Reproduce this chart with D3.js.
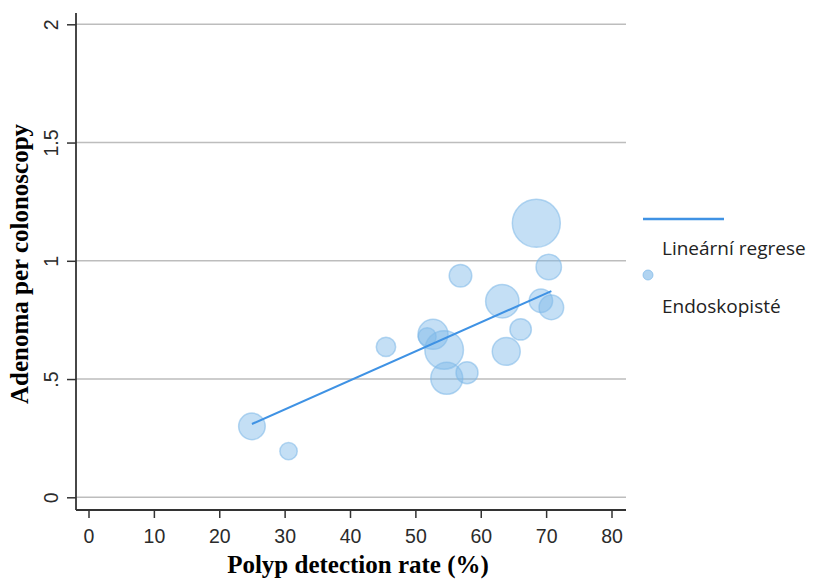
<!DOCTYPE html>
<html>
<head>
<meta charset="utf-8">
<script src="https://cdn.jsdelivr.net/npm/d3@7"></script>
<style>
  body { margin: 0; background: #fff; }
  svg { display: block; }
</style>
</head>
<body>
<div id="chart"></div>
<script>
// polyp detection rate (%) per endoscopist
const pdr = [25.0, 30.6, 45.5, 51.8, 52.7, 54.4, 54.8, 57.9, 56.9, 63.3, 66.1, 63.9, 68.5, 70.4, 69.2, 70.8];
// adenoma per colonoscopy
const apc = [0.30, 0.195, 0.636, 0.679, 0.689, 0.623, 0.503, 0.527, 0.937, 0.829, 0.710, 0.617, 1.159, 0.974, 0.831, 0.803];
// bubble weight (colonoscopies, relative)
const weight = [307, 131, 163, 141, 391, 647, 444, 210, 222, 484, 199, 340, 1000, 280, 238, 263];
// regression line end points
const regX = [25.0, 70.8];
const regY = [0.31, 0.872];
const xTicks = [0, 10, 20, 30, 40, 50, 60, 70, 80];
const yTicks = [0, 0.5, 1, 1.5, 2];
const yTickLabels = ["0", ".5", "1", "1.5", "2"];
const legendLabels = ["Lineární regrese", "Endoskopisté"];

const width = 813, height = 581;
const blue = "#3f92e4", bubble = "#7db8e8";

const svg = d3.select("#chart").append("svg")
    .attr("width", width)
    .attr("height", height);

const x = d3.scaleLinear().domain([0, 80]).range([88.5, 611.5]);
const y = d3.scaleLinear().domain([0, 2]).range([497.3, 24.3]);
const r = d3.scaleSqrt().domain([0, d3.max(weight)]).range([0, 24]);

const axisLeftX = 76, axisBottomY = 510, plotRight = 626, plotTop = 13;

// gridlines
svg.append("g").selectAll("line")
    .data(yTicks)
    .join("line")
    .attr("x1", axisLeftX).attr("x2", plotRight)
    .attr("y1", d => y(d)).attr("y2", d => y(d))
    .attr("stroke", "#bdbdbd")
    .attr("stroke-width", 1.6);

// x axis
const gx = svg.append("g")
    .attr("transform", `translate(0,${axisBottomY})`)
    .call(d3.axisBottom(x).tickValues(xTicks).tickSize(8).tickSizeOuter(0));
gx.select(".domain").remove();
gx.selectAll(".tick line").attr("stroke", "#333").attr("stroke-width", 1.5);
gx.selectAll(".tick text")
    .attr("y", 33).attr("dy", 0)
    .attr("fill", "#2b2b2b")
    .style("font-family", "'Liberation Sans', Arial, sans-serif")
    .style("font-size", "19.5px");

// y axis
const gy = svg.append("g")
    .attr("transform", `translate(${axisLeftX},0)`)
    .call(d3.axisLeft(y).tickValues(yTicks).tickSize(9).tickSizeOuter(0)
        .tickFormat((d, i) => yTickLabels[i]));
gy.select(".domain").remove();
gy.selectAll(".tick line").attr("stroke", "#333").attr("stroke-width", 1.5);
gy.selectAll(".tick text")
    .attr("transform", "rotate(-90)")
    .attr("x", 0).attr("y", -18).attr("dy", 0)
    .attr("text-anchor", "middle")
    .attr("fill", "#2b2b2b")
    .style("font-family", "'Liberation Sans', Arial, sans-serif")
    .style("font-size", "19.5px");

// axis lines
svg.append("line")
    .attr("x1", axisLeftX).attr("x2", axisLeftX)
    .attr("y1", plotTop).attr("y2", axisBottomY)
    .attr("stroke", "#333").attr("stroke-width", 1.8);
svg.append("line")
    .attr("x1", axisLeftX).attr("x2", plotRight)
    .attr("y1", axisBottomY).attr("y2", axisBottomY)
    .attr("stroke", "#333").attr("stroke-width", 1.8);

// bubbles
svg.append("g").selectAll("circle")
    .data(d3.range(pdr.length))
    .join("circle")
    .attr("cx", i => x(pdr[i]))
    .attr("cy", i => y(apc[i]))
    .attr("r", i => r(weight[i]))
    .attr("fill", bubble)
    .attr("fill-opacity", 0.45)
    .attr("stroke", bubble)
    .attr("stroke-opacity", 0.55)
    .attr("stroke-width", 1.5);

// regression line
svg.append("path")
    .datum(d3.zip(regX, regY))
    .attr("d", d3.line().x(d => x(d[0])).y(d => y(d[1])))
    .attr("fill", "none")
    .attr("stroke", blue)
    .attr("stroke-width", 2);

// axis titles
svg.append("text")
    .attr("x", 358).attr("y", 573)
    .attr("text-anchor", "middle")
    .style("font-family", "'Liberation Serif', 'Times New Roman', serif")
    .style("font-weight", "bold")
    .style("font-size", "25px")
    .text("Polyp detection rate (%)");

svg.append("text")
    .attr("transform", "translate(28,264) rotate(-90)")
    .attr("text-anchor", "middle")
    .style("font-family", "'Liberation Serif', 'Times New Roman', serif")
    .style("font-weight", "bold")
    .style("font-size", "25px")
    .text("Adenoma per colonoscopy");

// legend
const legend = svg.append("g");
legend.append("line")
    .attr("x1", 643).attr("x2", 724)
    .attr("y1", 219).attr("y2", 219)
    .attr("stroke", blue).attr("stroke-width", 2.5);
legend.append("circle")
    .attr("cx", 648).attr("cy", 275).attr("r", 5)
    .attr("fill", bubble).attr("fill-opacity", 0.6)
    .attr("stroke", bubble).attr("stroke-opacity", 0.7);
legend.selectAll("text")
    .data(legendLabels)
    .join("text")
    .attr("x", 662)
    .attr("y", (d, i) => i === 0 ? 255 : 313)
    .attr("fill", "#222")
    .style("font-family", "'Open Sans', sans-serif")
    .style("font-size", "19px")
    .text(d => d);
</script>
</body>
</html>
